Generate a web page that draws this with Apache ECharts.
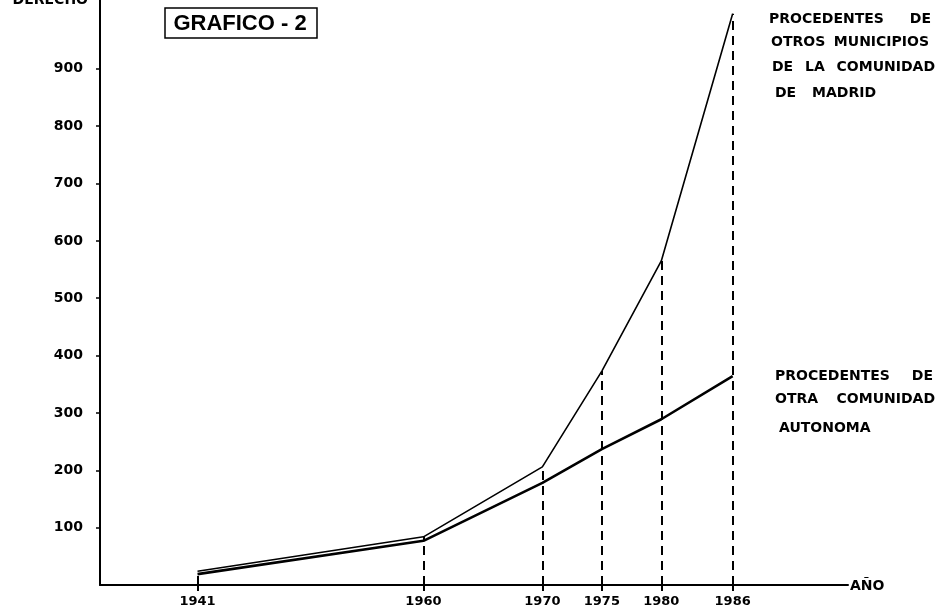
<!DOCTYPE html>
<html><head><meta charset="utf-8">
<script src="https://cdn.jsdelivr.net/npm/echarts@6/dist/echarts.min.js"></script>
<style>html,body{margin:0;padding:0;background:#fff}#c{width:945px;height:611px}</style>
</head><body><div id="c"></div>
<script>
// ---- data ----
const years = [1941, 1960, 1970, 1975, 1980, 1986];
const otrosMunicipios = [24, 84, 206, 373, 565, 996];   // Procedentes de otros municipios de la Comunidad de Madrid
const otraComunidad = [19, 77, 178, 237, 289, 364];     // Procedentes de otra Comunidad Autonoma
const yTickValues = [100, 200, 300, 400, 500, 600, 700, 800, 900];
const xTickValues = years;

const seriesA = years.map((y, i) => [y, otrosMunicipios[i]]);
const seriesB = years.map((y, i) => [y, otraComunidad[i]]);
const dropLines = years.map((y, i) => [{ coord: [y, 0] }, { coord: [y, otrosMunicipios[i]] }]);

const F = 'DejaVu Sans';
function word(text, x, y, align) {
  return { type: 'text', x: x, y: y, silent: true,
    style: { text: text, fill: '#000', font: 'bold 14px "DejaVu Sans"', align: align || 'left', verticalAlign: 'middle' } };
}

const chart = echarts.init(document.getElementById('c'), null, { renderer: 'canvas' });
chart.setOption({
  animation: false,
  backgroundColor: '#fff',
  grid: { left: 100, right: 97, top: 0, bottom: 26, containLabel: false },
  xAxis: {
    type: 'value', min: 1932.8, max: 1995.7,
    splitLine: { show: false },
    axisLine: { show: true, lineStyle: { color: '#000', width: 2 } },
    axisTick: { show: true, customValues: xTickValues, length: 6, lineStyle: { color: '#000', width: 2 } },
    axisLabel: { customValues: xTickValues, formatter: v => String(v), color: '#000',
      fontFamily: F, fontWeight: 'bold', fontSize: 13, margin: 10 }
  },
  yAxis: {
    type: 'value', min: 0, max: 1020,
    splitLine: { show: false },
    axisLine: { show: true, lineStyle: { color: '#000', width: 2 } },
    axisTick: { show: true, customValues: yTickValues, length: 4, lineStyle: { color: '#000', width: 1.5 } },
    axisLabel: { customValues: yTickValues, formatter: v => String(v), color: '#000',
      fontFamily: F, fontWeight: 'bold', fontSize: 14, margin: 17 }
  },
  series: [
    { type: 'line', data: seriesA, symbol: 'none', lineStyle: { color: '#000', width: 1.6 },
      markLine: { silent: true, symbol: ['none', 'none'], label: { show: false },
        lineStyle: { color: '#000', width: 2, type: [9, 6] }, emphasis: { disabled: true },
        data: dropLines } },
    { type: 'line', data: seriesB, symbol: 'none', lineStyle: { color: '#000', width: 2.6 } }
  ],
  graphic: [
    { type: 'rect', shape: { x: 165, y: 8, width: 152, height: 30 }, style: { fill: 'none', stroke: '#000', lineWidth: 1.5 }, silent: true },
    { type: 'text', x: 240, y: 24, silent: true,
      style: { text: 'GRAFICO - 2', fill: '#000', font: 'bold 22px "Liberation Sans"', align: 'center', verticalAlign: 'middle' } },
    word('DERECHO', 88, 0, 'right'),
    word('AÑO', 850, 586),
    word('PROCEDENTES', 769, 19), word('DE', 931, 19, 'right'),
    word('OTROS', 771, 42), word('MUNICIPIOS', 929, 42, 'right'),
    word('DE', 772, 67), word('LA', 805, 67), word('COMUNIDAD', 935, 67, 'right'),
    word('DE', 775, 93), word('MADRID', 812, 93),
    word('PROCEDENTES', 775, 376), word('DE', 933, 376, 'right'),
    word('OTRA', 775, 399), word('COMUNIDAD', 935, 399, 'right'),
    word('AUTONOMA', 779, 428)
  ]
});
</script></body></html>
